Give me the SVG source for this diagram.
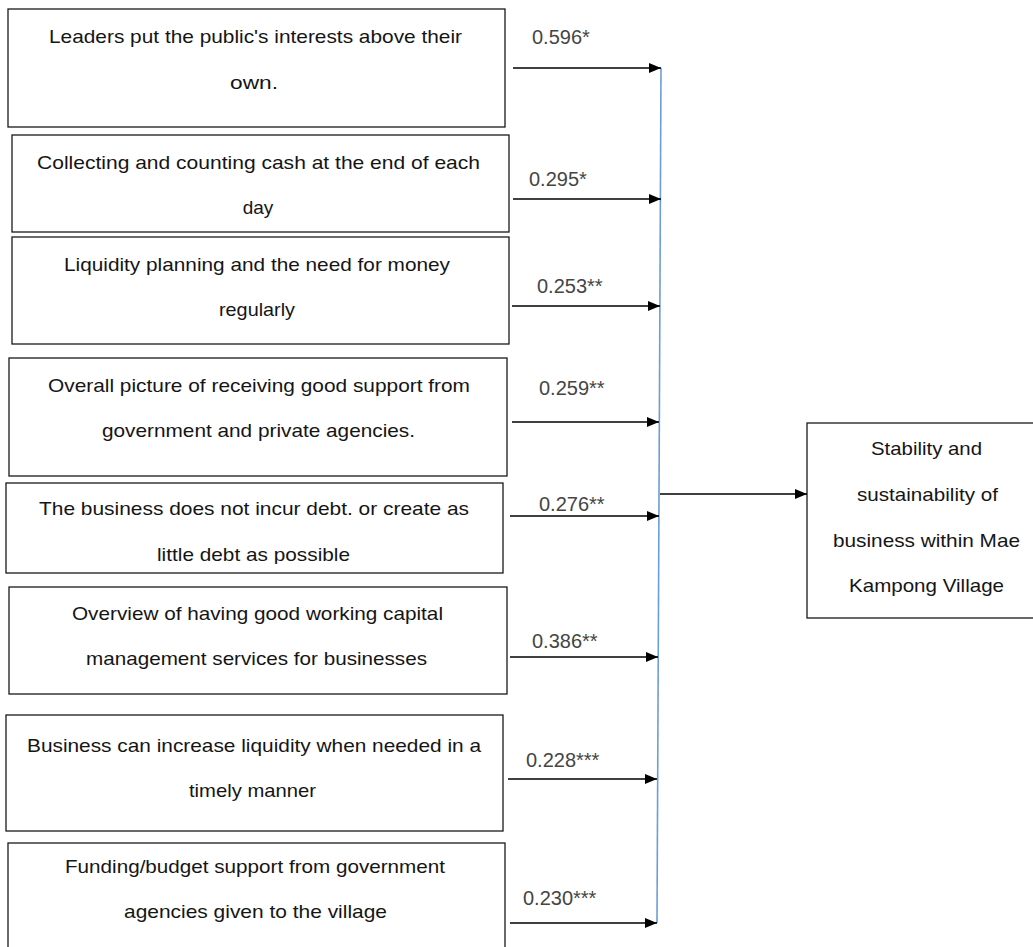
<svg xmlns="http://www.w3.org/2000/svg" width="1033" height="947" viewBox="0 0 1033 947">
<style>
.box{fill:#fff;stroke:#1a1a1a;stroke-width:1.3}
.t{font-family:"Liberation Sans",Arial,sans-serif;font-size:19px;fill:#151515}
.lbl{font-family:"Liberation Sans",Arial,sans-serif;font-size:20px;fill:#454545}
.arr{stroke:#000;stroke-width:1.4;fill:none}
.bus{stroke:#6b9ed8;stroke-width:1.6;fill:none}
</style>
<defs>
<marker id="ah" markerUnits="userSpaceOnUse" markerWidth="14" markerHeight="12" refX="12" refY="5" orient="auto">
<path d="M0,0 L12,5 L0,10 Z" fill="#000"/>
</marker>
<clipPath id="c5"><rect x="0" y="480" width="520" height="84"/></clipPath>
</defs>
<g id="n1"><rect class="box" x="8" y="9" width="497" height="118"/>
<text class="t" x="49" y="43" textLength="413" lengthAdjust="spacingAndGlyphs">Leaders put the public's interests above their</text>
<text class="t" x="230" y="89" textLength="48" lengthAdjust="spacingAndGlyphs">own.</text></g>
<g id="n2"><rect class="box" x="12" y="135" width="497" height="97"/>
<text class="t" x="37" y="169" textLength="443" lengthAdjust="spacingAndGlyphs">Collecting and counting cash at the end of each</text>
<text class="t" x="258" y="214" text-anchor="middle">day</text></g>
<g id="n3"><rect class="box" x="12" y="237" width="497" height="107"/>
<text class="t" x="64" y="271" textLength="386" lengthAdjust="spacingAndGlyphs">Liquidity planning and the need for money</text>
<text class="t" x="219" y="316" textLength="76" lengthAdjust="spacingAndGlyphs">regularly</text></g>
<g id="n4"><rect class="box" x="9" y="358" width="498" height="118"/>
<text class="t" x="48" y="392" textLength="422" lengthAdjust="spacingAndGlyphs">Overall picture of receiving good support from</text>
<text class="t" x="102" y="437" textLength="313" lengthAdjust="spacingAndGlyphs">government and private agencies.</text></g>
<g id="n5"><rect class="box" x="6" y="483" width="497" height="90"/>
<text class="t" x="39" y="515" textLength="430" lengthAdjust="spacingAndGlyphs">The business does not incur debt. or create as</text>
<text class="t" x="157" y="561" textLength="193" lengthAdjust="spacingAndGlyphs" clip-path="url(#c5)">little debt as possible</text></g>
<g id="n6"><rect class="box" x="9" y="587" width="498" height="107"/>
<text class="t" x="72" y="620" textLength="371" lengthAdjust="spacingAndGlyphs">Overview of having good working capital</text>
<text class="t" x="86" y="665" textLength="341" lengthAdjust="spacingAndGlyphs">management services for businesses</text></g>
<g id="n7"><rect class="box" x="6" y="715" width="497" height="116"/>
<text class="t" x="27" y="752" textLength="454" lengthAdjust="spacingAndGlyphs">Business can increase liquidity when needed in a</text>
<text class="t" x="189" y="797" textLength="127" lengthAdjust="spacingAndGlyphs">timely manner</text></g>
<g id="n8"><rect class="box" x="8" y="843" width="497" height="130"/>
<text class="t" x="65" y="873" textLength="380" lengthAdjust="spacingAndGlyphs">Funding/budget support from government</text>
<text class="t" x="124" y="918" textLength="263" lengthAdjust="spacingAndGlyphs">agencies given to the village</text></g>
<g id="out"><rect class="box" x="807" y="423" width="240" height="195"/>
<text class="t" x="871" y="455" textLength="111" lengthAdjust="spacingAndGlyphs">Stability and</text>
<text class="t" x="857" y="501" textLength="141" lengthAdjust="spacingAndGlyphs">sustainability of</text>
<text class="t" x="833" y="547" textLength="187" lengthAdjust="spacingAndGlyphs">business within Mae</text>
<text class="t" x="849" y="592" textLength="155" lengthAdjust="spacingAndGlyphs">Kampong Village</text></g>
<g id="connectors">
<line class="bus" x1="661" y1="68" x2="657" y2="923"/>
<line class="arr" x1="513" y1="68" x2="661" y2="68" marker-end="url(#ah)"/>
<line class="arr" x1="513" y1="199" x2="661" y2="199" marker-end="url(#ah)"/>
<line class="arr" x1="512" y1="306" x2="660" y2="306" marker-end="url(#ah)"/>
<line class="arr" x1="512" y1="422" x2="659" y2="422" marker-end="url(#ah)"/>
<line class="arr" x1="510" y1="516" x2="659" y2="516" marker-end="url(#ah)"/>
<line class="arr" x1="510" y1="657" x2="658" y2="657" marker-end="url(#ah)"/>
<line class="arr" x1="508" y1="779" x2="657" y2="779" marker-end="url(#ah)"/>
<line class="arr" x1="510" y1="923" x2="657" y2="923" marker-end="url(#ah)"/>
<line class="arr" x1="660" y1="494" x2="807" y2="494" marker-end="url(#ah)"/>
<text class="lbl" x="532" y="44">0.596*</text>
<text class="lbl" x="529" y="186">0.295*</text>
<text class="lbl" x="537" y="293">0.253**</text>
<text class="lbl" x="539" y="395">0.259**</text>
<text class="lbl" x="539" y="511">0.276**</text>
<text class="lbl" x="532" y="648">0.386**</text>
<text class="lbl" x="526" y="767">0.228***</text>
<text class="lbl" x="523" y="905">0.230***</text>
</g>
</svg>
